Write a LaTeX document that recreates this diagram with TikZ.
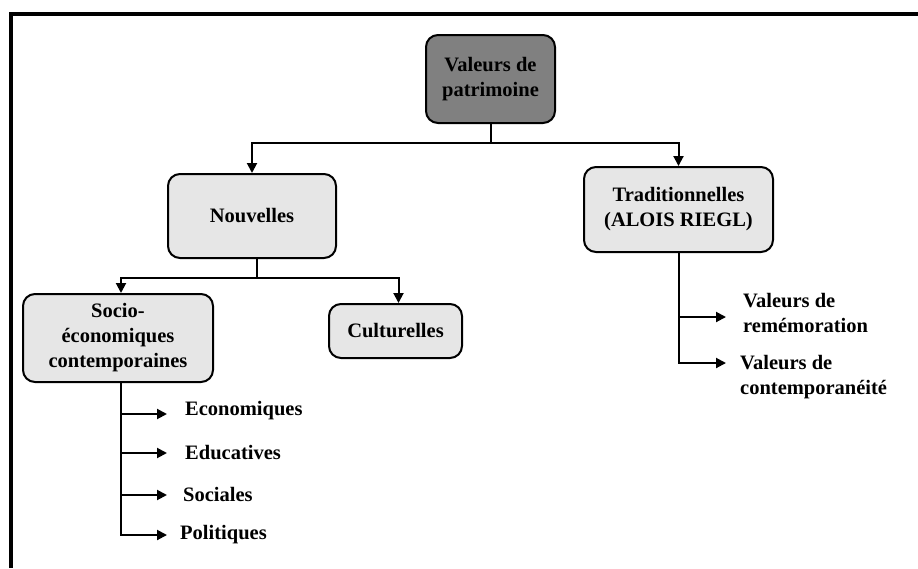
\documentclass[tikz,border=0pt]{standalone}
\usepackage{fontspec}
\setmainfont{Liberation Serif}
\usetikzlibrary{arrows.meta,calc}
\definecolor{darkbox}{HTML}{808080}
\definecolor{lightbox}{HTML}{E6E6E6}
\begin{document}
\begin{tikzpicture}[x=1pt,y=-1pt,
  every node/.style={font=\bfseries\fontsize{20.5}{25}\selectfont, text=black},
  box/.style={draw=black, line width=2pt, rounded corners=12pt, align=center, inner sep=0pt},
  dbox/.style={box, fill=darkbox},
  lbox/.style={box, fill=lightbox},
  lbl/.style={anchor=west, inner sep=0pt, align=left},
  conn/.style={draw=black, line width=2pt},
  arr/.style={conn, -{Triangle[length=10pt,width=10pt]}}
]
\useasboundingbox (0,0) rectangle (918,568);
% frame (cropped at right and bottom)
\draw[line width=4pt, line join=miter] (11,568) -- (11,14) -- (918,14);

% boxes
\node[dbox, minimum width=129pt, minimum height=88pt] (top) at (490.5,79) {Valeurs de\\patrimoine};
\node[lbox, minimum width=168pt, minimum height=84pt] (nouv) at (252,216) {Nouvelles};
\node[lbox, minimum width=189pt, minimum height=85pt] (trad) at (678.5,209.5) {Traditionnelles\\(ALOIS RIEGL)};
\node[lbox, minimum width=190pt, minimum height=88pt] (socio) at (118,338) {Socio-\\économiques\\contemporaines};
\node[lbox, minimum width=133pt, minimum height=54pt] (cult) at (395.5,331) {Culturelles};

% labels
\node[lbl] (eco) at (185,411) {Economiques};
\node[lbl] (edu) at (185,453) {Educatives};
\node[lbl] (soc) at (183,494) {Sociales};
\node[lbl] (pol) at (180,535) {Politiques};
\node[lbl] (rem) at (743,312.5) {Valeurs de\\remémoration};
\node[lbl] (cont) at (740,377) {Valeurs de\\contemporanéité};

% junctions
\coordinate (j1) at (491,143);
\coordinate (j2) at (257,278);
\coordinate (stip) at (167,0);
\coordinate (t1) at (726,317);
\coordinate (t2) at (726,363);

% top level
\draw[conn] (top.south -| j1) -- (j1);
\draw[arr] (j1) -| (nouv.north);
\draw[arr] (j1) -| (trad.north);

% Nouvelles
\draw[conn] (nouv.south -| j2) -- (j2);
\draw[arr] (j2) -| ([xshift=3pt]socio.north);
\draw[arr] (j2) -| ([xshift=3pt]cult.north);

% Socio branch
\draw[arr] ([xshift=3pt]socio.south) |- (pol.west -| stip);
\draw[arr] ([xshift=3pt]socio.south |- eco.west) ++(0,3) -- ($(eco.west -| stip)+(0,3)$);
\draw[arr] ([xshift=3pt]socio.south |- edu.west) -- (edu.west -| stip);
\draw[arr] ([xshift=3pt]socio.south |- soc.west) ++(0,1) -- ($(soc.west -| stip)+(0,1)$);

% Traditionnelles branch
\draw[arr] (trad.south) |- (t2);
\draw[arr] (trad.south |- t1) -- (t1);
\end{tikzpicture}
\end{document}
